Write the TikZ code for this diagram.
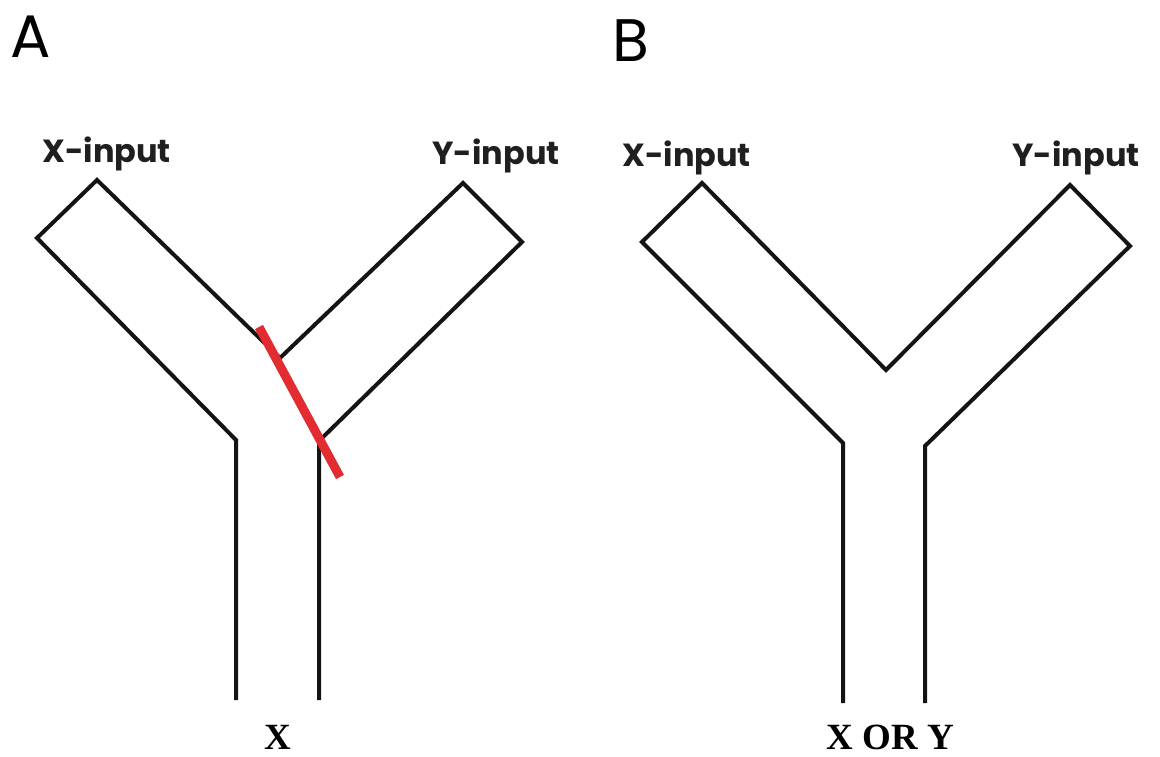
\documentclass[tikz,border=0pt]{standalone}
\usepackage{fontspec}
\newfontfamily\geo{Poppins}
\newfontfamily\tms{Liberation Serif}
\definecolor{cutred}{RGB}{226,44,50}
\begin{document}
\begin{tikzpicture}[x=1pt,y=-1pt,
  wall/.style={draw=black!92,line width=4pt,line join=miter,line cap=butt},
  cut/.style={draw=cutred,line width=9pt},
  panel/.style={font=\geo\fontsize{60}{60}\selectfont,inner sep=0pt},
  inlab/.style={font=\geo\bfseries\fontsize{32}{32}\selectfont,text=black!88,inner sep=0pt},
  outlab/.style={font=\tms\bfseries\fontsize{37}{37}\selectfont,inner sep=0pt}]
\useasboundingbox (0,0) rectangle (1160,757);
% ---------- Panel A ----------
\node[panel,anchor=base west] (pA) at (10,58) {A};
\node[inlab,anchor=base west] (axin) at (42,163) {X-input};
\node[inlab,anchor=base east] (ayin) at (560,165) {Y-input};
\coordinate (aXt) at (97,180);
\coordinate (aXl) at (37,238);
\coordinate (aLc) at (236,440);
\coordinate (aLb) at (236,700);
\coordinate (aJ) at (280,358);
\coordinate (aYt) at (463,183);
\coordinate (aYr) at (522,242);
\coordinate (aRc) at (319,441);
\coordinate (aRb) at (319,700);
\draw[wall] (aLb) -- (aLc) -- (aXl) -- (aXt) -- (aJ) -- (aYt) -- (aYr) -- (aRc) -- (aRb);
\coordinate (r1) at (259,327);
\coordinate (r2) at (340,477);
\draw[cut] (r1) -- (r2);
\node[outlab,anchor=base] (aout) at (278,749) {X};
% ---------- Panel B ----------
\node[panel,anchor=base west] (pB) at (612,62) {B};
\node[inlab,anchor=base west] (bxin) at (622,167) {X-input};
\node[inlab,anchor=base east] (byin) at (1140,167) {Y-input};
\coordinate (bXt) at (702,183);
\coordinate (bXl) at (642,242);
\coordinate (bLc) at (843,443);
\coordinate (bLb) at (843,703);
\coordinate (bJ) at (886,370);
\coordinate (bYt) at (1070,185);
\coordinate (bYr) at (1130,246);
\coordinate (bRc) at (925,446);
\coordinate (bRb) at (925,703);
\draw[wall] (bLb) -- (bLc) -- (bXl) -- (bXt) -- (bJ) -- (bYt) -- (bYr) -- (bRc) -- (bRb);
\node[outlab,anchor=base] (bout) at (890,749) {X OR Y};
\end{tikzpicture}
\end{document}
